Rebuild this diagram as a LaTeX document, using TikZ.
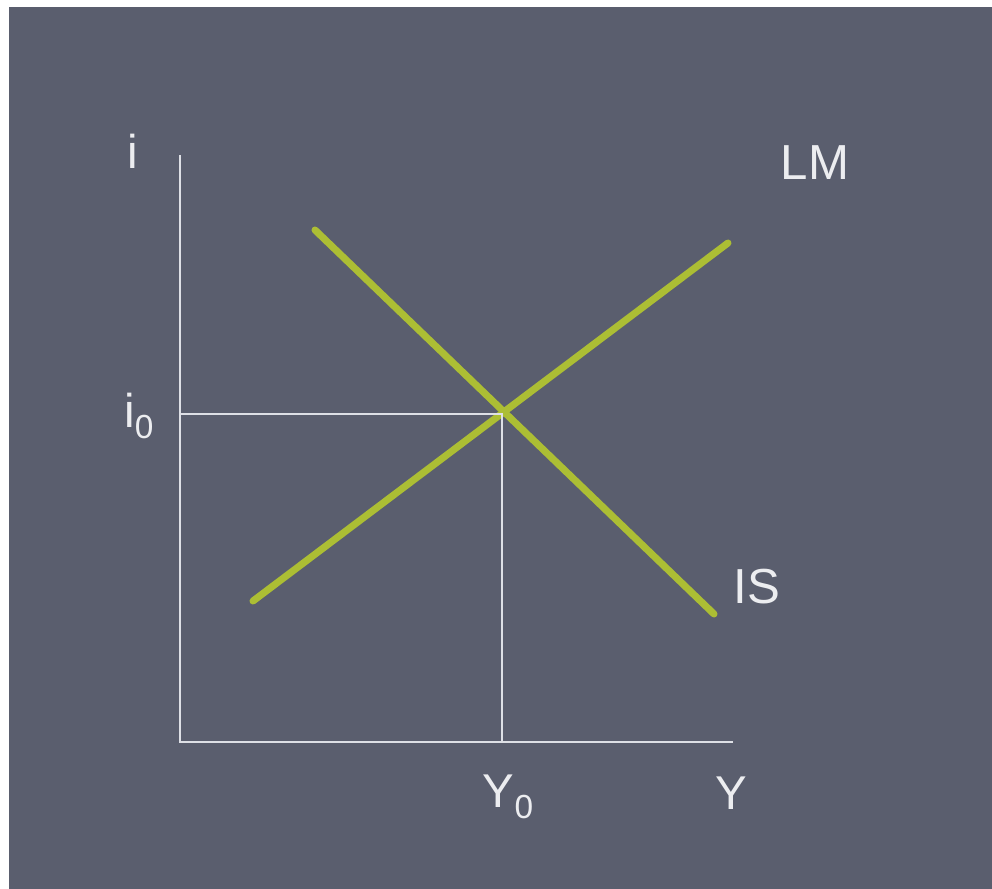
\documentclass[tikz,border=0pt]{standalone}
\usepackage{fontspec}
\setmainfont{Liberation Sans}
\usepackage{tikz}

\definecolor{slate}{RGB}{90,94,110}
\definecolor{axisgrey}{RGB}{222,224,230}
\definecolor{curvegreen}{RGB}{172,190,52}
\definecolor{labelwhite}{RGB}{236,237,240}

\tikzset{
  axisline/.style={draw=axisgrey, line width=1.3pt},
  curveline/.style={draw=curvegreen, line width=4pt, line cap=round},
  axislabel/.style={text=labelwhite, inner sep=0pt, font=\fontsize{27}{32}\selectfont},
  curvelabel/.style={text=labelwhite, inner sep=0pt, font=\fontsize{28}{34}\selectfont}
}

\newcommand{\sub}[1]{\raisebox{-0.45ex}{\fontsize{19}{22}\selectfont #1}}

\begin{document}
\begin{tikzpicture}[x=0.02cm, y=-0.02cm]
      % background
      \useasboundingbox (0,0) rectangle (992,889);
      \fill [white] (0,0) rectangle (992,889);
      \fill [slate] (9,7) rectangle (992,889);

      % axes
      \coordinate (top) at (180,155);
      \coordinate (origin) at (180,742);
      \coordinate (right) at (733,742);
      \draw [axisline] (top) -- (origin) -- (right);

      % curves
      \coordinate (lmlow) at (253,601);
      \coordinate (lmhigh) at (728,243);
      \coordinate (islow) at (315,230);
      \coordinate (ishigh) at (714,614);
      \draw [curveline] (lmlow) -- (lmhigh);
      \draw [curveline] (islow) -- (ishigh);

      % equilibrium
      \coordinate (eq) at (502,414);
      \coordinate (ileft) at (180,414);
      \coordinate (ybase) at (502,742);
      \draw [axisline] (ileft) -- (eq) -- (ybase);

      % labels
      \node [axislabel] (ilab) at (133,151) {i};
      \node [axislabel] (izero) at (139,416) {i\sub{0}};
      \node [axislabel] (yzero) at (508,797) {Y\sub{0}};
      \node [axislabel] (ylab) at (731,793) {Y};
      \node [curvelabel] (lmlab) at (815,163) {LM};
      \node [curvelabel] (islab) at (757,587) {IS};
\end{tikzpicture}
\end{document}
